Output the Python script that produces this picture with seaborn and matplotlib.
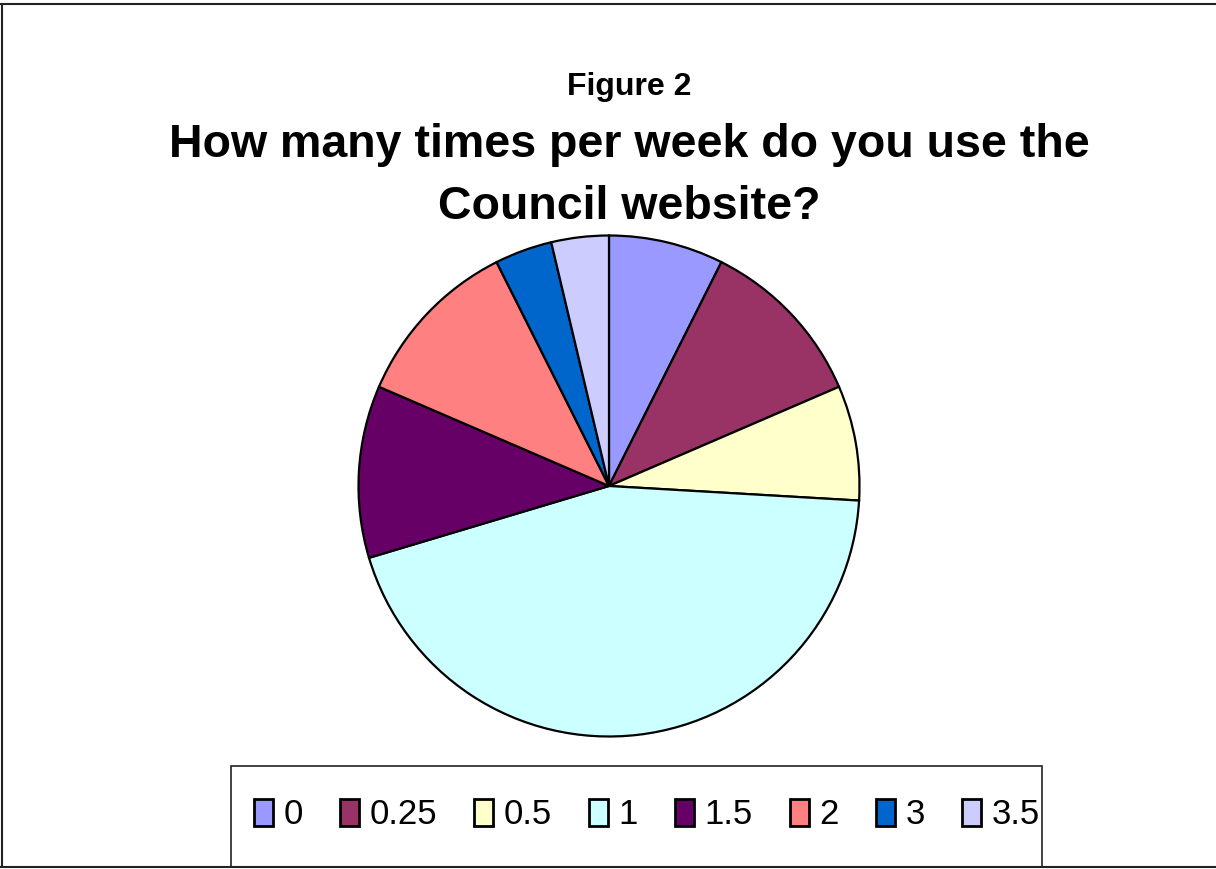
import matplotlib
matplotlib.use("Agg")
import matplotlib.pyplot as plt
import seaborn as sns
from matplotlib.patches import Rectangle
from matplotlib.lines import Line2D

# Data (responses per category)
labels = ["0", "0.25", "0.5", "1", "1.5", "2", "3", "3.5"]
counts = [2, 3, 2, 12, 3, 3, 1, 1]
colors = ["#9999FF", "#993366", "#FFFFCC", "#CCFFFF", "#660066", "#FF8080", "#0066CC", "#CCCCFF"]

sns.set_theme(style="white")
plt.rcParams["font.family"] = ["Liberation Sans", "DejaVu Sans"]
plt.rcParams["text.color"] = "black"

W, H = 1216, 869
fig = plt.figure(figsize=(W / 100, H / 100), dpi=100)
fig.patch.set_facecolor("white")

# Outer chart border (top, left, bottom)
for xs, ys in [((0, 1), (1 - 4 / H, 1 - 4 / H)), ((1.5 / W, 1.5 / W), (2 / H, 1 - 4 / H)),
               ((0, 1), (2 / H, 2 / H))]:
    fig.add_artist(Line2D(xs, ys, color="#222222", lw=1.5, transform=fig.transFigure))

# Pie axes: center (609, 486), radius ~253 px
cx, cy, r = 609, 486, 253
ax = fig.add_axes([(cx - r) / W, (H - cy - r) / H, 2 * r / W, 2 * r / H])
wedges, _ = ax.pie(counts, colors=sns.color_palette(colors), startangle=90, counterclock=False,
                   wedgeprops=dict(edgecolor="black", linewidth=1.6))
ax.set_xlim(-1.01, 1.01)
ax.set_ylim(-1.01, 1.01)
ax.set_aspect("equal")
ax.axis("off")

# Titles
fig.text(629 / W, 1 - 87 / H, "Figure 2", ha="center", va="center", fontsize=23,
         fontweight="bold", color="black")
fig.text(629 / W, 1 - 145 / H, "How many times per week do you use the", ha="center", va="center",
         fontsize=33.5, fontweight="bold", color="black")
fig.text(629 / W, 1 - 207 / H, "Council website?", ha="center", va="center",
         fontsize=33.5, fontweight="bold", color="black")

# Legend box
fig.add_artist(Rectangle((231 / W, 2 / H), (1042 - 231) / W, (H - 766 - 2) / H,
                         transform=fig.transFigure, facecolor="white", edgecolor="#222222", lw=1.2))
handles = [Rectangle((0, 0), 1, 1, facecolor=c, edgecolor="black", lw=2) for c in colors]
leg = fig.legend(handles, labels, loc="center", bbox_to_anchor=(647 / W, 1 - 815 / H), ncol=8,
                 frameon=False, fontsize=25, handlelength=0.55, handleheight=0.85,
                 handletextpad=0.3, columnspacing=1.07)
for t in leg.get_texts():
    t.set_color("black")

fig.savefig("out.png", dpi=100)
